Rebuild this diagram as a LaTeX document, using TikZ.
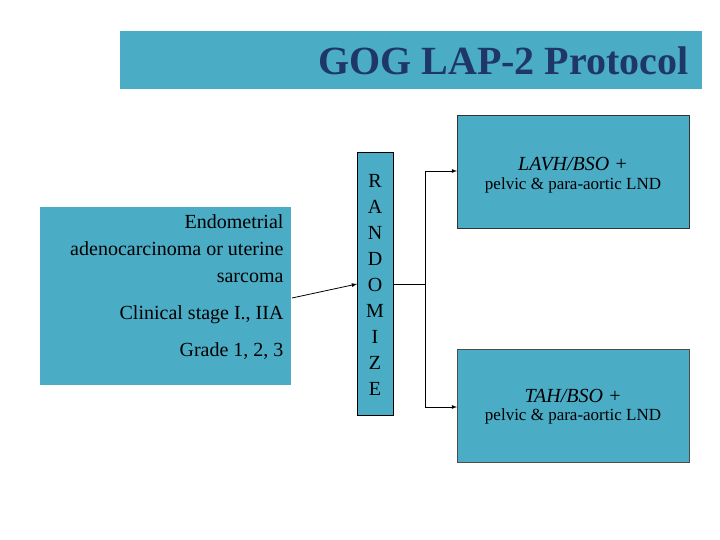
\documentclass[tikz,border=0pt]{standalone}
\usepackage{fontspec}
\setmainfont{Liberation Serif}
\usepackage{tikz}
\definecolor{boxblue}{HTML}{4BACC6}
\definecolor{titlenavy}{HTML}{1F3768}
\begin{document}
\begin{tikzpicture}[x=1pt,y=-1pt,
                panel/.style={fill=boxblue,inner sep=0pt,anchor=north west},
                arm/.style={panel,draw=black!80,thin,minimum width=232pt,minimum height=113pt},
                connection/.style={-latex,thick},
                link/.style={thick},
            ]
            \useasboundingbox (0,0) rectangle (720,540);

            \node[panel,minimum width=582pt,minimum height=58pt] (title) at (120,31) {};
            \node[anchor=east,text=titlenavy,font=\bfseries\fontsize{40}{44}\selectfont] at (692,61) {GOG LAP-2 Protocol};

            \node[panel,minimum width=251pt,minimum height=178pt] (patients) at (40,207) {};
            \node[anchor=north east,align=right,font=\fontsize{20}{27}\selectfont] at (287,211)
                {Endometrial\\adenocarcinoma or uterine\\sarcoma\\[10pt]Clinical stage I., IIA\\[10pt]Grade 1, 2, 3};

            \node[panel,draw=black,thin,minimum width=36pt,minimum height=263pt] (random) at (357,152) {};
            \node[align=center,font=\fontsize{20}{26}\selectfont] at (375,285)
                {R\\A\\N\\D\\O\\M\\I\\Z\\E};

            \node[arm] (lavh) at (457,115) {};
            \node[align=center] at (573,175)
                {{\itshape\fontsize{20}{24}\selectfont LAVH/BSO +}\\[6pt]{\fontsize{17}{20}\selectfont pelvic \& para-aortic LND}};

            \node[arm,draw=black!70,semithick] (tah) at (457,349) {};
            \node[align=center] at (573,407)
                {{\itshape\fontsize{20}{24}\selectfont TAH/BSO +}\\[6pt]{\fontsize{17}{20}\selectfont pelvic \& para-aortic LND}};

            \coordinate (split) at (425,284);
            \coordinate (upper) at (425,171);
            \coordinate (lower) at (425,407);

            \draw[connection] (292,298) -- (random.west |- 0,284);
            \draw[link] (random.east |- split) -- (split);
            \draw[link] (upper) -- (lower);
            \draw[connection] (upper) -- (lavh.west |- upper);
            \draw[connection] (lower) -- (tah.west |- lower);
        \end{tikzpicture}
\end{document}
